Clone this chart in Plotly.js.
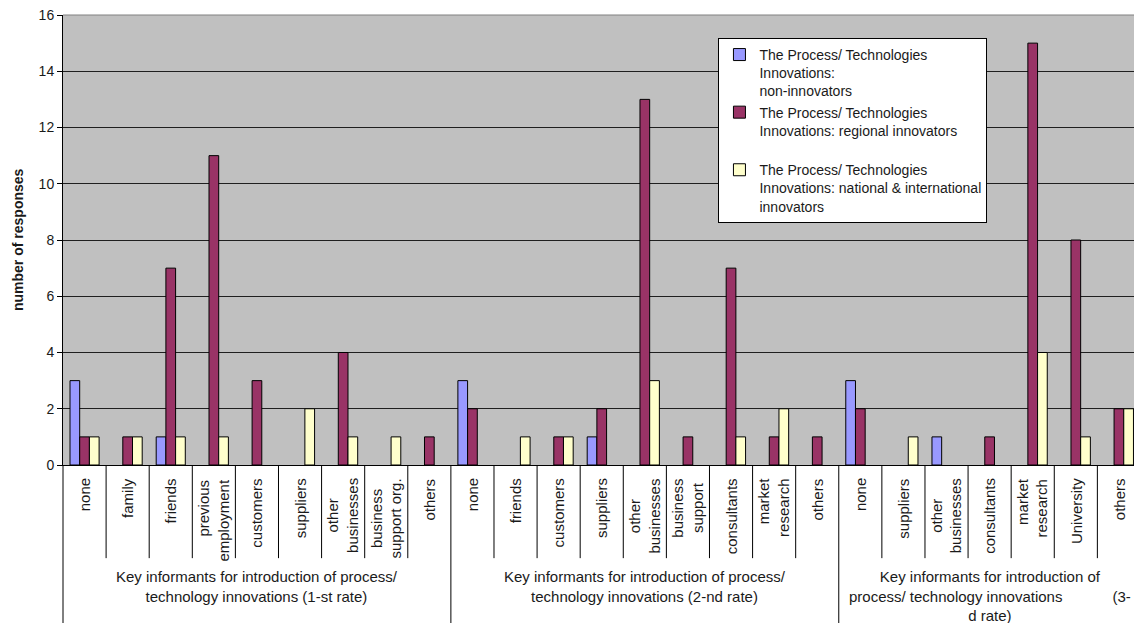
<!DOCTYPE html>
<html>
<head>
<meta charset="utf-8">
<script src="https://cdn.plot.ly/plotly-3.0.1.min.js"></script>
<style>
  html, body { margin: 0; padding: 0; background: #fff; overflow: hidden; }
  #chart { width: 1134px; height: 623px; }
</style>
</head>
<body>
<div id="chart"></div>
<script>
// Key informants, 1-st rate
const rate1Labels = ['none', 'family', 'friends', 'previous<br>employment', 'customers', 'suppliers', 'other<br>businesses', 'business<br>support org.', 'others'];
const rate1NonInnovators = [3, 0, 1, 0, 0, 0, 0, 0, 0];
const rate1Regional      = [1, 1, 7, 11, 3, 0, 4, 0, 1];
const rate1National      = [1, 1, 1, 1, 0, 2, 1, 1, 0];

// Key informants, 2-nd rate
const rate2Labels = ['none', 'friends', 'customers', 'suppliers', 'other<br>businesses', 'business<br>support', 'consultants', 'market<br>research', 'others'];
const rate2NonInnovators = [3, 0, 0, 1, 0, 0, 0, 0, 0];
const rate2Regional      = [2, 0, 1, 2, 13, 1, 7, 1, 1];
const rate2National      = [0, 1, 1, 0, 3, 0, 1, 2, 0];

// Key informants, 3-d rate
const rate3Labels = ['none', 'suppliers', 'other<br>businesses', 'consultants', 'market<br>research', 'University', 'others'];
const rate3NonInnovators = [3, 0, 1, 0, 0, 0, 0];
const rate3Regional      = [2, 0, 0, 1, 15, 8, 2];
const rate3National      = [0, 1, 0, 0, 4, 1, 2];

const groupTitles = [
  'Key informants for introduction of process/<br>technology innovations (1-st rate)',
  'Key informants for introduction of process/<br>technology innovations (2-nd rate)',
  'Key informants for introduction of<br>process/ technology innovations' + '\u00a0'.repeat(11) + ' (3-<br>d rate)'
];

const seriesNames = [
  'The Process/ Technologies<br>Innovations:<br>non-innovators',
  'The Process/ Technologies<br>Innovations: regional innovators<br>\u00a0',
  'The Process/ Technologies<br>Innovations: national & international<br>innovators'
];
const seriesColors = ['#9999ff', '#993366', '#ffffcc'];

const yAxisTitle = 'number of responses';

// ---- assemble ----
const groups = [
  { labels: rate1Labels, values: [rate1NonInnovators, rate1Regional, rate1National] },
  { labels: rate2Labels, values: [rate2NonInnovators, rate2Regional, rate2National] },
  { labels: rate3Labels, values: [rate3NonInnovators, rate3Regional, rate3National] }
];

const allLabels = [];
const seriesValues = [[], [], []];
const groupStarts = [];
groups.forEach(g => {
  groupStarts.push(allLabels.length);
  g.labels.forEach(l => allLabels.push(l));
  g.values.forEach((vals, s) => vals.forEach(v => seriesValues[s].push(v)));
});
const xIdx = allLabels.map((_, i) => i);

const font = 'Liberation Sans, Arial, sans-serif';
const textColor = '#1a1a1a';

const traces = seriesValues.map((vals, s) => ({
  type: 'bar',
  x: xIdx,
  y: vals,
  name: seriesNames[s],
  legendgroup: 'g' + s,
  // no outline on empty bars so nothing shows on the baseline
  marker: { color: seriesColors[s], line: { color: '#000', width: vals.map(v => (v ? 1 : 0)) } },
  hoverinfo: 'y'
}));

// category labels, drawn vertically under each category
const topAligned = new Set(['previous<br>employment', 'market<br>research']);
const annotations = allLabels.map((lab, i) => ({
  xref: 'x', yref: 'paper',
  x: i, y: -0.025,
  xanchor: 'center', yanchor: 'top',
  text: lab, textangle: -90, showarrow: false,
  align: topAligned.has(lab) ? 'right' : 'center',
  font: { family: font, size: 15, color: textColor }
}));

// group titles
groups.forEach((g, k) => {
  const start = groupStarts[k];
  annotations.push({
    xref: 'x', yref: 'paper',
    x: start + (g.labels.length - 1) / 2, y: -0.224,
    xanchor: 'center', yanchor: 'top',
    text: groupTitles[k], showarrow: false, align: 'center',
    font: { family: font, size: 15, color: textColor }
  });
});

// y-axis title
annotations.push({
  xref: 'paper', yref: 'paper',
  x: -0.042, y: 0.5, xanchor: 'center', yanchor: 'middle',
  text: '<b>' + yAxisTitle + '</b>', textangle: -90, showarrow: false,
  font: { family: font, size: 14, color: textColor }
});

// divider lines between categories and between groups
const shapes = [];
for (let i = 1; i < allLabels.length; i++) {
  const isGroupEdge = groupStarts.includes(i);
  shapes.push({
    type: 'line', xref: 'x', yref: 'paper',
    x0: i - 0.5, x1: i - 0.5, y0: 0, y1: isGroupEdge ? -0.36 : -0.207,
    line: { color: '#000', width: 1 }
  });
}
shapes.push({
  type: 'line', xref: 'paper', yref: 'paper',
  x0: 0, x1: 0, y0: 0, y1: -0.36, line: { color: '#000', width: 1 }
});
shapes.push({
  type: 'line', xref: 'paper', yref: 'paper',
  x0: 0, x1: 1, y0: 1, y1: 1, line: { color: '#808080', width: 1 }
});

const layout = {
  width: 1134, height: 623,
  margin: { l: 63, r: 0, t: 15, b: 158, pad: 0 },
  paper_bgcolor: '#ffffff',
  plot_bgcolor: '#c0c0c0',
  font: { family: font, color: textColor },
  barmode: 'group',
  bargap: 0.325,
  bargroupgap: 0,
  showlegend: true,
  legend: {
    x: 0.612, y: 0.949, xanchor: 'left', yanchor: 'top',
    bgcolor: '#ffffff', bordercolor: '#000', borderwidth: 1,
    font: { family: font, size: 14, color: textColor },
    valign: 'top', tracegroupgap: 6, traceorder: 'normal'
  },
  xaxis: {
    type: 'linear', range: [-0.5, 24.35],
    showgrid: false, zeroline: false, showticklabels: false, ticks: '',
    showline: true, linecolor: '#000', linewidth: 1, fixedrange: true
  },
  yaxis: {
    range: [0, 16], dtick: 2, tick0: 0,
    showgrid: true, gridcolor: '#1f1f1f', gridwidth: 1,
    zeroline: false,
    showline: true, linecolor: '#000', linewidth: 1,
    ticks: 'outside', ticklen: 5, tickcolor: '#000',
    tickfont: { family: font, size: 14, color: textColor },
    fixedrange: true
  },
  annotations: annotations,
  shapes: shapes
};

Plotly.newPlot('chart', traces, layout, { displayModeBar: false, staticPlot: true });
</script>
</body>
</html>
